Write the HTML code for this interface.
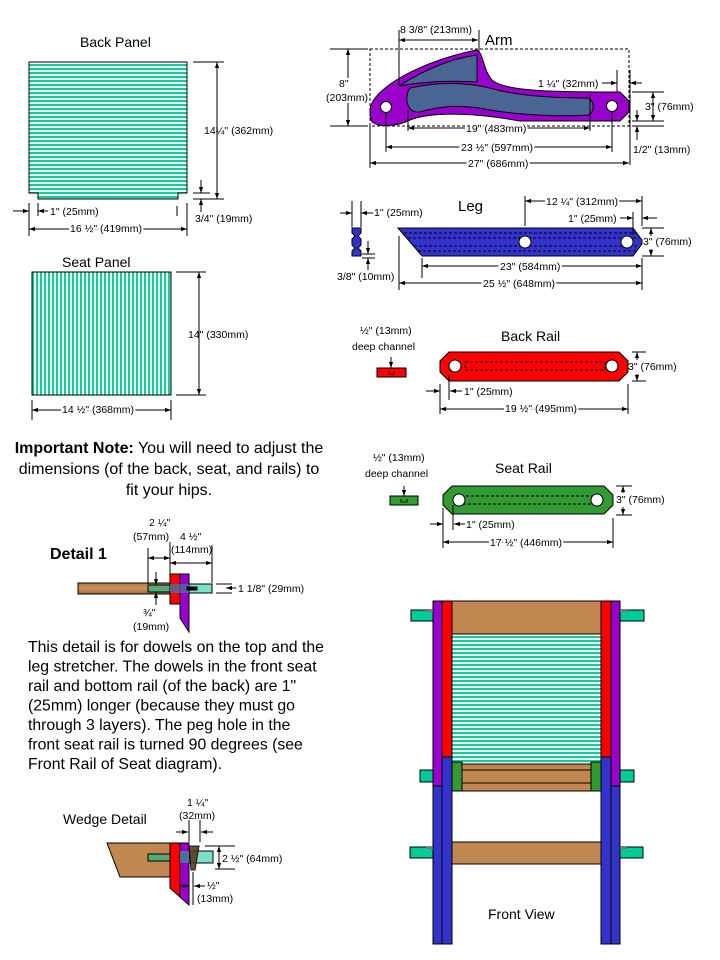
<!DOCTYPE html>
<html><head><meta charset="utf-8"><style>
html,body{margin:0;padding:0;background:#fff;}
svg{display:block;font-family:"Liberation Sans",Arial,sans-serif;}
</style></head><body>
<svg width="720" height="960" viewBox="0 0 720 960" xmlns="http://www.w3.org/2000/svg">
<defs>
<pattern id="hs" width="4" height="4" patternUnits="userSpaceOnUse"><rect width="4" height="4" fill="#fff"/><rect width="4" height="2.2" fill="#1cc99a"/></pattern>
<pattern id="vs" width="4" height="4" patternUnits="userSpaceOnUse"><rect width="4" height="4" fill="#fff"/><rect width="2.2" height="4" fill="#1cc99a"/></pattern>
<marker id="a" viewBox="0 0 10 10" refX="10" refY="5" markerWidth="6" markerHeight="6" orient="auto-start-reverse"><path d="M0,1.5 L10,5 L0,8.5 z" fill="#000"/></marker>
<linearGradient id="wood" x1="0" y1="0" x2="0" y2="1"><stop offset="0" stop-color="#b07a45"/><stop offset="0.5" stop-color="#c99460"/><stop offset="1" stop-color="#9c6a3a"/></linearGradient>
</defs>
<g stroke="#000" stroke-width="1" fill="none">
<!-- Back panel -->
<path d="M29,62 H187 V193 H178 V199 H38 V193 H29 Z" fill="url(#hs)"/>
<line x1="193" y1="62" x2="224" y2="62"/><line x1="193" y1="199" x2="224" y2="199"/><line x1="193" y1="193" x2="210" y2="193"/>
<line x1="217" y1="62" x2="217" y2="199" marker-start="url(#a)" marker-end="url(#a)"/>
<line x1="201" y1="180" x2="201" y2="193" marker-end="url(#a)"/>
<line x1="201" y1="212" x2="201" y2="199" marker-end="url(#a)"/>
<line x1="29" y1="203" x2="29" y2="236"/><line x1="38" y1="203" x2="38" y2="216"/><line x1="187" y1="203" x2="187" y2="236"/><line x1="177" y1="206" x2="177" y2="216"/>
<line x1="13" y1="211" x2="29" y2="211" marker-end="url(#a)"/>
<line x1="48" y1="211" x2="38" y2="211" marker-end="url(#a)"/>
<line x1="29" y1="229" x2="187" y2="229" marker-start="url(#a)" marker-end="url(#a)"/>
<!-- Seat panel -->
<rect x="32" y="272" width="139" height="123" fill="url(#vs)"/>
<line x1="176" y1="272" x2="206" y2="272"/><line x1="176" y1="395" x2="206" y2="395"/>
<line x1="199" y1="272" x2="199" y2="395" marker-start="url(#a)" marker-end="url(#a)"/>
<line x1="32" y1="400" x2="32" y2="420"/><line x1="171" y1="400" x2="171" y2="420"/>
<line x1="32" y1="410" x2="171" y2="410" marker-start="url(#a)" marker-end="url(#a)"/>
<!-- Arm -->
<rect x="370" y="49" width="259" height="77" stroke-dasharray="3,2"/>
<path d="M370,110 C372,88 420,62 476,50 C484,52 482,68 492,80 C505,92 560,92 620,92 L629,101 L629,112 L620,121 L520,121 C470,112 430,112 410,120 C398,126 380,128 372,122 C370,118 370,114 370,110 Z" fill="#9900cc"/>
<path d="M399,86 C430,66 455,58 477,55 L477,82 C450,80 420,82 399,86 Z" fill="#4a6494"/>
<path d="M410,88 C440,81 470,83 490,88 C520,97 560,98 588,98 C595,102 595,112 588,115 C560,117 520,115 490,110 C460,104 440,106 420,112 C406,114 404,96 410,88 Z" fill="#4a6494"/>
<circle cx="386" cy="107" r="5.5" fill="#fff"/><circle cx="612" cy="106" r="5.5" fill="#fff"/>
<line x1="330" y1="49" x2="368" y2="49"/><line x1="330" y1="126" x2="368" y2="126"/>
<line x1="348" y1="49" x2="348" y2="78" marker-start="url(#a)"/><line x1="348" y1="103" x2="348" y2="126" marker-end="url(#a)"/>
<line x1="399" y1="30" x2="399" y2="86"/><line x1="479" y1="30" x2="479" y2="52"/>
<line x1="399" y1="40" x2="478" y2="40" marker-start="url(#a)" marker-end="url(#a)"/>
<line x1="617" y1="70" x2="617" y2="92"/><line x1="630" y1="70" x2="630" y2="165"/>
<line x1="602" y1="83" x2="617" y2="83" marker-end="url(#a)"/>
<line x1="642" y1="83" x2="630" y2="83" marker-end="url(#a)"/>
<line x1="632" y1="92" x2="664" y2="92"/><line x1="632" y1="121" x2="664" y2="121"/><line x1="632" y1="126" x2="664" y2="126"/>
<line x1="653" y1="92" x2="653" y2="121" marker-start="url(#a)" marker-end="url(#a)"/>
<line x1="637" y1="110" x2="637" y2="121" marker-end="url(#a)"/>
<line x1="637" y1="140" x2="637" y2="126" marker-end="url(#a)"/>
<line x1="408" y1="110" x2="408" y2="131"/><line x1="590" y1="95" x2="590" y2="131"/>
<line x1="408" y1="128" x2="590" y2="128" marker-start="url(#a)" marker-end="url(#a)"/>
<line x1="386" y1="113" x2="386" y2="152"/><line x1="612" y1="112" x2="612" y2="152"/>
<line x1="386" y1="147" x2="612" y2="147" marker-start="url(#a)" marker-end="url(#a)"/>
<line x1="370" y1="126" x2="370" y2="168"/>
<line x1="370" y1="163" x2="629" y2="163" marker-start="url(#a)" marker-end="url(#a)"/>
<!-- Leg -->
<path d="M398,228 H633 L642,240 V244 L633,256 H422 Z" fill="#3333cc"/>
<g stroke-dasharray="3,2"><line x1="404" y1="233" x2="636" y2="233"/><line x1="408" y1="238" x2="639" y2="238"/><line x1="414" y1="246" x2="639" y2="246"/><line x1="418" y1="251" x2="636" y2="251"/></g>
<circle cx="525" cy="242" r="6" fill="#fff"/><circle cx="627" cy="242" r="6" fill="#fff"/>
<path d="M352,228 H361 V233 L358,236 L361,239 V245 L358,248 L361,251 V256 H352 V251 L355,248 L352,245 V239 L355,236 L352,233 Z" fill="#3333cc"/>
<line x1="352" y1="201" x2="352" y2="227"/><line x1="361" y1="201" x2="361" y2="227"/>
<line x1="340" y1="213" x2="352" y2="213" marker-end="url(#a)"/><line x1="373" y1="213" x2="361" y2="213" marker-end="url(#a)"/>
<line x1="362" y1="254" x2="375" y2="254"/><line x1="362" y1="258" x2="375" y2="258"/>
<line x1="368" y1="241" x2="368" y2="254" marker-end="url(#a)"/><line x1="368" y1="270" x2="368" y2="258" marker-end="url(#a)"/>
<line x1="525" y1="196" x2="525" y2="226"/><line x1="642" y1="196" x2="642" y2="226"/>
<line x1="525" y1="201" x2="642" y2="201" marker-start="url(#a)" marker-end="url(#a)"/>
<line x1="633" y1="212" x2="633" y2="235"/>
<line x1="620" y1="218" x2="633" y2="218" marker-end="url(#a)"/><line x1="657" y1="218" x2="642" y2="218" marker-end="url(#a)"/>
<line x1="642" y1="228" x2="664" y2="228"/><line x1="642" y1="256" x2="664" y2="256"/>
<line x1="651" y1="228" x2="651" y2="236" marker-start="url(#a)"/><line x1="651" y1="249" x2="651" y2="256" marker-end="url(#a)"/>
<line x1="422" y1="258" x2="422" y2="278"/><line x1="642" y1="258" x2="642" y2="290"/><line x1="399" y1="236" x2="399" y2="290"/>
<line x1="422" y1="266" x2="642" y2="266" marker-start="url(#a)" marker-end="url(#a)"/>
<line x1="399" y1="283" x2="642" y2="283" marker-start="url(#a)" marker-end="url(#a)"/>
<!-- Back rail -->
<path d="M449,352 H619 L628,361 V372 L619,381 H449 L440,372 V361 Z" fill="#ff0000"/>
<rect x="465" y="362" width="140" height="8" stroke-dasharray="3,2"/>
<circle cx="455" cy="366" r="6" fill="#fff"/><circle cx="612" cy="366" r="6" fill="#fff"/>
<rect x="377" y="368" width="29" height="9" fill="#ff0000"/>
<path d="M389,371 V374 H394 V371" stroke-width="0.8"/>
<line x1="391" y1="357" x2="391" y2="368" marker-end="url(#a)"/>
<line x1="632" y1="352" x2="646" y2="352"/><line x1="632" y1="381" x2="646" y2="381"/>
<line x1="637" y1="352" x2="637" y2="360" marker-start="url(#a)"/><line x1="637" y1="374" x2="637" y2="381" marker-end="url(#a)"/>
<line x1="440" y1="384" x2="440" y2="414"/><line x1="449" y1="375" x2="449" y2="400"/><line x1="628" y1="384" x2="628" y2="414"/>
<line x1="426" y1="391" x2="440" y2="391" marker-end="url(#a)"/><line x1="462" y1="391" x2="450" y2="391" marker-end="url(#a)"/>
<line x1="440" y1="409" x2="628" y2="409" marker-start="url(#a)" marker-end="url(#a)"/>
<!-- Seat rail -->
<path d="M452,486 H604 L613,495 V505 L604,514 H452 L443,505 V495 Z" fill="#339933"/>
<rect x="461" y="496" width="136" height="8" stroke-dasharray="3,2"/>
<circle cx="459" cy="500" r="6" fill="#fff"/><circle cx="597" cy="500" r="6" fill="#fff"/>
<rect x="390" y="496" width="28" height="9" fill="#339933"/>
<path d="M401,499 V502 H407 V499" stroke-width="0.8"/>
<line x1="404" y1="486" x2="404" y2="496" marker-end="url(#a)"/>
<line x1="616" y1="486" x2="632" y2="486"/><line x1="616" y1="515" x2="632" y2="515"/>
<line x1="623" y1="486" x2="623" y2="493" marker-start="url(#a)"/><line x1="623" y1="507" x2="623" y2="515" marker-end="url(#a)"/>
<line x1="443" y1="508" x2="443" y2="548"/><line x1="453" y1="505" x2="453" y2="530"/><line x1="613" y1="518" x2="613" y2="548"/>
<line x1="430" y1="524" x2="443" y2="524" marker-end="url(#a)"/><line x1="465" y1="524" x2="454" y2="524" marker-end="url(#a)"/>
<line x1="443" y1="542" x2="613" y2="542" marker-start="url(#a)" marker-end="url(#a)"/>
<!-- Detail 1 -->
<rect x="78" y="583" width="92" height="11" fill="url(#wood)"/>
<rect x="148" y="585" width="22" height="7" fill="#55aa77"/>
<rect x="170" y="574" width="10" height="30" fill="#ff0000"/>
<path d="M180,574 H189 V632 L180,618 Z" fill="#9900cc"/>
<rect x="189" y="584" width="23" height="9" fill="#7de0c8"/>
<rect x="170" y="584" width="19" height="9" fill="#4a6fa5" stroke="none" opacity="0.8"/>
<rect x="187" y="587" width="10" height="3" fill="#000"/>
<line x1="148" y1="548" x2="148" y2="584"/><line x1="170" y1="542" x2="170" y2="574"/><line x1="212" y1="545" x2="212" y2="583"/>
<line x1="148" y1="558" x2="170" y2="558" marker-start="url(#a)" marker-end="url(#a)"/>
<line x1="170" y1="563" x2="212" y2="563" marker-start="url(#a)" marker-end="url(#a)"/>
<line x1="216" y1="584" x2="232" y2="584"/><line x1="216" y1="593" x2="232" y2="593"/>
<line x1="236" y1="588" x2="226" y2="588" marker-end="url(#a)"/>
<line x1="156" y1="572" x2="156" y2="585" marker-end="url(#a)"/>
<line x1="156" y1="605" x2="156" y2="592" marker-end="url(#a)"/>
<!-- Wedge detail -->
<path d="M107,843 H170 V877 H120 Z" fill="#c08850"/>
<rect x="148" y="854" width="22" height="7" fill="#55aa77"/>
<path d="M170,843 H180 V897 L170,888 Z" fill="#ff0000"/>
<path d="M180,843 H189 V905 L180,897 Z" fill="#9900cc"/>
<rect x="189" y="851" width="24" height="12" fill="#7de0c8"/>
<rect x="180" y="851" width="9" height="12" fill="#4a6fa5" stroke="none"/>
<path d="M189,846 H199 L195,870 H191 Z" fill="#5a3a20" opacity="0.9"/>
<line x1="189" y1="820" x2="189" y2="842"/><line x1="200" y1="820" x2="200" y2="842"/>
<line x1="176" y1="832" x2="188" y2="832" marker-end="url(#a)"/><line x1="213" y1="832" x2="201" y2="832" marker-end="url(#a)"/>
<line x1="205" y1="846" x2="235" y2="846"/><line x1="215" y1="869" x2="235" y2="869"/>
<line x1="219" y1="846" x2="219" y2="869" marker-start="url(#a)" marker-end="url(#a)"/>
<line x1="193" y1="872" x2="193" y2="905"/>
<line x1="180" y1="886" x2="189" y2="886" marker-end="url(#a)"/><line x1="205" y1="886" x2="194" y2="886" marker-end="url(#a)"/>
<!-- Front view -->
<rect x="452" y="601" width="149" height="33" fill="#c08850"/>
<rect x="452" y="634" width="149" height="130" fill="url(#hs)"/>
<rect x="452" y="764" width="149" height="27" fill="#c08850"/>
<line x1="452" y1="770" x2="601" y2="770"/><line x1="452" y1="783" x2="601" y2="783"/>
<rect x="452" y="762" width="10" height="29" fill="#339933"/><rect x="591" y="762" width="10" height="29" fill="#339933"/>
<rect x="452" y="842" width="149" height="22" fill="#c08850"/>
<rect x="433" y="601" width="9" height="185" fill="#9900cc"/>
<rect x="442" y="601" width="10" height="156" fill="#ff0000"/>
<rect x="433" y="786" width="9" height="158" fill="#3333cc"/>
<rect x="442" y="757" width="10" height="187" fill="#3333cc"/>
<rect x="601" y="601" width="10" height="156" fill="#ff0000"/>
<rect x="611" y="601" width="9" height="185" fill="#9900cc"/>
<rect x="601" y="757" width="10" height="187" fill="#3333cc"/>
<rect x="611" y="786" width="9" height="158" fill="#3333cc"/>
<g fill="#00cc99">
<rect x="411" y="610" width="22" height="11"/><rect x="420" y="770" width="13" height="12"/><rect x="410" y="847" width="23" height="11"/>
<rect x="620" y="610" width="24" height="11"/><rect x="620" y="770" width="14" height="12"/><rect x="620" y="847" width="23" height="11"/>
</g>
<g fill="#777" stroke="none"><rect x="426" y="610" width="7" height="2"/><rect x="620" y="610" width="7" height="2"/><rect x="426" y="847" width="7" height="2"/><rect x="620" y="847" width="7" height="2"/></g>
</g>
<g font-size="10.5" fill="#000">
<text x="80" y="47" font-size="14">Back Panel</text>
<text x="204" y="134">14¼" (362mm)</text>
<text x="195" y="222">3/4" (19mm)</text>
<text x="50" y="215">1" (25mm)</text>
<text x="70" y="232" fill="#000"><tspan style="paint-order:stroke" stroke="#fff" stroke-width="4">16 ½" (419mm)</tspan></text>
<text x="62" y="267" font-size="14">Seat Panel</text>
<text x="188" y="338">14" (330mm)</text>
<text x="62" y="413"><tspan style="paint-order:stroke" stroke="#fff" stroke-width="4">14 ½" (368mm)</tspan></text>
<text x="169" y="453" font-size="16" text-anchor="middle"><tspan font-weight="bold">Important Note:</tspan>  You will need to adjust the</text>
<text x="169" y="474" font-size="16" text-anchor="middle">dimensions (of the back, seat, and rails) to</text>
<text x="169" y="495" font-size="16" text-anchor="middle">fit your hips.</text>
<text x="400" y="33">8 3/8" (213mm)</text>
<text x="485" y="45" font-size="15">Arm</text>
<text x="339" y="87">8"</text>
<text x="326" y="101"><tspan style="paint-order:stroke" stroke="#fff" stroke-width="3">(203mm)</tspan></text>
<text x="538" y="87">1 ¼" (32mm)</text>
<text x="645" y="110">3" (76mm)</text>
<text x="633" y="153">1/2" (13mm)</text>
<text x="466" y="132"><tspan style="paint-order:stroke" stroke="#fff" stroke-width="4">19" (483mm)</tspan></text>
<text x="461" y="151"><tspan style="paint-order:stroke" stroke="#fff" stroke-width="4">23 ½" (597mm)</tspan></text>
<text x="468" y="167"><tspan style="paint-order:stroke" stroke="#fff" stroke-width="4">27" (686mm)</tspan></text>
<text x="458" y="211" font-size="15">Leg</text>
<text x="374" y="216">1" (25mm)</text>
<text x="337" y="280">3/8" (10mm)</text>
<text x="546" y="205"><tspan style="paint-order:stroke" stroke="#fff" stroke-width="4">12 ¼" (312mm)</tspan></text>
<text x="568" y="222">1" (25mm)</text>
<text x="643" y="245">3" (76mm)</text>
<text x="500" y="270"><tspan style="paint-order:stroke" stroke="#fff" stroke-width="4">23" (584mm)</tspan></text>
<text x="483" y="287"><tspan style="paint-order:stroke" stroke="#fff" stroke-width="4">25 ½" (648mm)</tspan></text>
<text x="501" y="341" font-size="14">Back Rail</text>
<text x="360" y="334">½" (13mm)</text>
<text x="352" y="350">deep channel</text>
<text x="628" y="370">3" (76mm)</text>
<text x="464" y="395">1" (25mm)</text>
<text x="505" y="412"><tspan style="paint-order:stroke" stroke="#fff" stroke-width="4">19 ½" (495mm)</tspan></text>
<text x="495" y="473" font-size="14">Seat Rail</text>
<text x="373" y="461">½" (13mm)</text>
<text x="365" y="477">deep channel</text>
<text x="616" y="503">3" (76mm)</text>
<text x="466" y="528">1" (25mm)</text>
<text x="490" y="546"><tspan style="paint-order:stroke" stroke="#fff" stroke-width="4">17 ½" (446mm)</tspan></text>
<text x="50" y="559" font-size="16" font-weight="bold">Detail 1</text>
<text x="149" y="526">2 ¼"</text>
<text x="133" y="540">(57mm)</text>
<text x="180" y="540">4 ½"</text>
<text x="171" y="553">(114mm)</text>
<text x="238" y="592">1 1/8" (29mm)</text>
<text x="143" y="616">¾"</text>
<text x="133" y="630">(19mm)</text>
<g font-size="15.8">
<text x="28" y="652">This detail is for dowels on the top and the</text>
<text x="28" y="671.5">leg stretcher.  The dowels in the front seat</text>
<text x="28" y="691">rail and bottom rail (of the back) are 1"</text>
<text x="28" y="710.5">(25mm) longer (because they must go</text>
<text x="28" y="730">through 3 layers).  The peg hole in the</text>
<text x="28" y="749.5">front seat rail is turned 90 degrees (see</text>
<text x="28" y="769">Front Rail of Seat diagram).</text>
</g>
<text x="63" y="824" font-size="14">Wedge Detail</text>
<text x="187" y="806">1 ¼"</text>
<text x="179" y="819">(32mm)</text>
<text x="222" y="862">2 ½" (64mm)</text>
<text x="207" y="889">½"</text>
<text x="197" y="902">(13mm)</text>
<text x="488" y="919" font-size="14">Front View</text>
</g>
</svg>
</body></html>
